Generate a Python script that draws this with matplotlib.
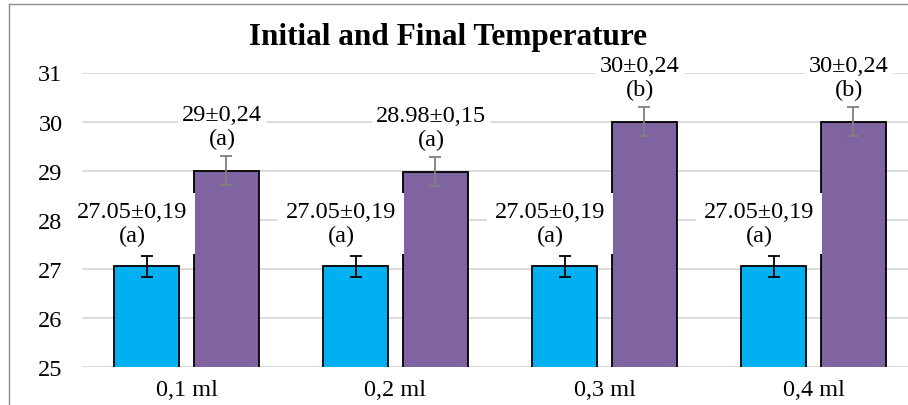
import numpy as np
import matplotlib
matplotlib.use("Agg")
import matplotlib.pyplot as plt
from matplotlib.lines import Line2D

plt.rcParams['font.family'] = ['Liberation Serif', 'DejaVu Serif']

categories = ["0,1 ml", "0,2 ml", "0,3 ml", "0,4 ml"]
initial    = [27.05, 27.05, 27.05, 27.05]
final      = [29.0, 28.98, 30.0, 30.0]
initial_err = [0.21, 0.21, 0.21, 0.21]
final_err   = [0.29, 0.29, 0.29, 0.29]
initial_lbl = ["27.05±0,19\n(a)"] * 4
final_lbl   = ["29±0,24\n(a)", "28.98±0,15\n(a)", "30±0,24\n(b)", "30±0,24\n(b)"]

BLUE   = "#00B0F0"
PURPLE = "#8064A2"
GRID   = "#d9d9d9"

W, H = 908, 406
fig = plt.figure(figsize=(W / 100, H / 100), dpi=100)
ax = fig.add_axes([82 / W, 38 / H, (918 - 82) / W, (368 - 73.5) / H])

x = np.arange(len(categories))
bw, off = 0.31, 0.19

ax.bar(x - off, initial, bw, color=BLUE, edgecolor="black", lw=1.3, zorder=3)
ax.bar(x + off, final, bw, color=PURPLE, edgecolor="black", lw=1.3, zorder=3)
ax.errorbar(x - off, initial, yerr=initial_err, fmt="none", ecolor="black",
            elinewidth=1.3, capsize=4, capthick=1.3, zorder=4)
ax.errorbar(x + off, final, yerr=final_err, fmt="none", ecolor="#7f7f7f",
            elinewidth=1.3, capsize=4, capthick=1.3, zorder=4)

for i in range(len(categories)):
    ax.text(x[i] - off - 0.07, initial[i] + 0.87, initial_lbl[i],
            ha="center", va="center", fontsize=17.5, linespacing=1.2,
            bbox=dict(facecolor="white", edgecolor="none", pad=5.5), zorder=5)
    ax.text(x[i] + off - 0.02, final[i] + 0.9, final_lbl[i],
            ha="center", va="center", fontsize=17.5, linespacing=1.2,
            bbox=dict(facecolor="white", edgecolor="none", pad=3), zorder=5)

ax.set_ylim(25, 31)
ax.set_xlim(-0.5, len(categories) - 0.5)
ax.set_yticks(range(25, 32))
ax.set_xticks(x)
ax.set_xticklabels(categories)
ax.tick_params(axis="both", length=0, labelsize=17.5, colors="black")
ax.tick_params(axis="y", pad=14)
ax.tick_params(axis="x", pad=9)
ax.grid(axis="y", color=GRID, lw=1.3, zorder=0)
ax.set_axisbelow(True)
for s in ax.spines.values():
    s.set_visible(False)

fig.text(448 / W, 1 - 37 / H, "Initial and Final Temperature",
         ha="center", va="center", fontsize=22.5, fontweight="bold")

# chart area border (left and top edges visible)
fig.add_artist(Line2D([9 / W, 9 / W], [0, 1 - 5 / H], color="#8c8c8c", lw=1))
fig.add_artist(Line2D([9 / W, 1], [1 - 5 / H, 1 - 5 / H], color="#8c8c8c", lw=1))

fig.savefig("out.png", dpi=100)
